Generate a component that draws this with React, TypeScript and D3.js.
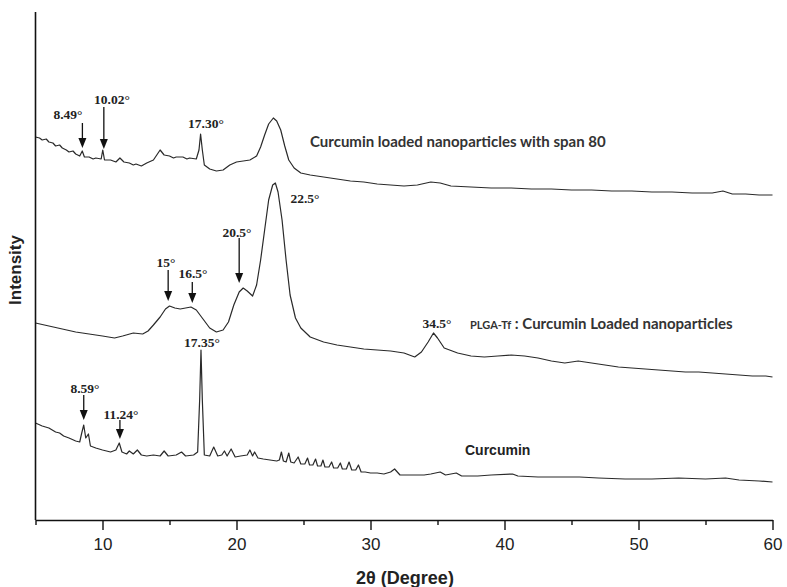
import React from "react";
import * as d3 from "d3";

// 2θ (degree) and intensity (a.u.) for each pattern
const span80Theta = [5.0,5.3,5.5,5.8,6.0,6.3,6.5,6.8,7.0,7.3,7.5,7.8,8.0,8.3,8.49,8.65,9.0,9.3,9.5,9.9,10.02,10.15,10.6,11.0,11.3,11.6,12.0,12.3,12.5,12.9,13.3,13.8,14.1,14.3,14.6,15.0,15.3,15.5,16.0,16.3,16.5,17.0,17.2,17.32,17.45,17.6,18.0,18.5,19.0,19.5,20.0,20.5,21.0,21.5,21.8,22.1,22.4,22.75,23.0,23.3,23.6,23.9,24.3,24.8,25.5,26.0,26.5,27.0,27.5,28.5,29.5,30.5,31.5,32.5,33.5,34.5,35.2,36.0,37.5,39.0,40.5,42.0,43.5,45.0,46.5,48.0,49.5,51.0,52.5,54.0,55.5,56.3,57.0,58.0,59.0,60.0];
const span80Int = [383,382,380,381,378,377,374,375,372,370,368,369,366,364,369,363,363,361,362,361,370,360,360,358,362,358,357,355,356,354,357,360,366,370,365,364,362,363,363,361,362,361,370,386,370,355,351,349,350,355,358,359,360,364,373,385,396,402,399,390,374,360,352,347,345,344,343,342,341,339,338,336,335,334,335,338,337,334,333,332,332,331,331,330,330,329,329,328,328,327,327,329,326,326,325,325];

const plgaTheta = [5.0,6.0,7.0,8.0,9.0,10.0,10.9,11.5,12.3,13.0,13.4,13.8,14.3,14.7,15.0,15.4,15.8,16.2,16.6,17.0,17.5,18.0,18.5,19.0,19.4,19.8,20.2,20.5,20.8,21.2,21.5,21.8,22.1,22.4,22.7,22.9,23.1,23.4,23.7,24.0,24.4,24.8,25.5,26.5,27.5,28.5,29.5,30.5,31.5,32.5,33.3,33.8,34.3,34.7,35.0,35.5,36.5,37.5,38.5,39.5,40.5,41.5,42.5,43.5,44.5,45.5,46.5,47.5,48.5,49.5,50.5,51.5,52.5,53.5,54.5,55.5,56.5,57.5,58.5,59.5,60.0];
const plgaInt = [197,194,191,188,186,184,182,184,187,186,189,195,203,211,214,212,211,212,213,210,201,192,188,190,198,215,228,232,229,224,235,260,290,320,335,337,328,300,260,225,202,192,183,178,175,173,171,170,169,167,163,168,178,187,182,172,167,164,163,164,165,164,162,159,157,159,157,155,153,152,151,150,149,148,148,147,146,145,144,144,143];

const curcuminTheta = [5.0,5.5,6.0,6.5,6.8,7.1,7.5,8.0,8.3,8.45,8.6,8.75,8.85,8.95,9.1,9.5,10.0,10.6,11.0,11.25,11.45,11.8,12.0,12.3,12.6,12.9,13.3,13.8,14.3,14.6,14.9,15.5,15.9,16.2,16.8,17.1,17.25,17.35,17.45,17.6,18.0,18.3,18.6,18.9,19.1,19.3,19.6,19.9,20.3,20.8,21.0,21.2,21.35,21.6,22.0,22.5,23.0,23.2,23.35,23.5,23.7,23.9,24.05,24.3,24.6,24.8,25.1,25.3,25.45,25.7,25.9,26.05,26.3,26.45,26.6,26.9,27.1,27.25,27.55,27.75,27.9,28.2,28.4,28.6,28.9,29.1,29.3,29.6,30.0,30.5,31.0,31.5,31.8,32.2,33.0,34.0,34.5,35.2,35.6,36.4,36.8,38.0,39.0,40.6,41.0,42.5,44.0,45.6,47.0,49.0,51.0,53.0,55.0,56.5,57.5,59.0,60.0];
const curcuminInt = [97,94,92,88,87,84,82,79,78,87,95,82,84,86,74,72,70,68,70,77,68,66,69,66,70,65,64,65,64,69,64,65,68,64,65,68,120,170,120,65,64,73,64,65,69,64,71,63,64,65,70,64,68,62,61,60,59,60,68,59,58,67,58,57,63,56,56,62,55,55,61,54,54,60,53,53,58,52,52,57,51,51,58,50,50,55,48,48,47,47,46,48,51,45,45,45,46,48,45,47,44,44,45,46,44,43,43,43,42,41,41,42,41,42,40,39,38];

const majorTicks = [10, 20, 30, 40, 50, 60];
const minorTicks = [5, 15, 25, 35, 45, 55];

const peakLabels = [
  { text: "8.49°", x: 68, y: 119 },
  { text: "10.02°", x: 112, y: 104 },
  { text: "17.30°", x: 206, y: 128 },
  { text: "22.5°", x: 305, y: 203 },
  { text: "20.5°", x: 237, y: 237 },
  { text: "15°", x: 166, y: 267 },
  { text: "16.5°", x: 193, y: 278 },
  { text: "17.35°", x: 202, y: 347 },
  { text: "34.5°", x: 437, y: 328 },
  { text: "8.59°", x: 85, y: 393 },
  { text: "11.24°", x: 121, y: 419 },
];

const arrows = [
  { deg: 8.5, y1: 123, y2: 148 },
  { deg: 10.1, y1: 107, y2: 149 },
  { deg: 20.2, y1: 238, y2: 283 },
  { deg: 14.9, y1: 270, y2: 301 },
  { deg: 16.7, y1: 282, y2: 303 },
  { deg: 8.6, y1: 395, y2: 420 },
  { deg: 11.3, y1: 420, y2: 439 },
];

const W = 787, H = 587;
const left = 35.5, right = 772.5, top = 12, bottom = 520;

function Axis({ scale, values, size, labels }: any) {
  const ref = React.useRef<SVGGElement>(null);
  React.useEffect(() => {
    const ax = d3.axisBottom(scale).tickValues(values).tickSize(size).tickSizeOuter(0);
    if (!labels) ax.tickFormat(() => "");
    const g = d3.select(ref.current!);
    g.call(ax as any);
    g.selectAll("path.domain").attr("stroke", "#111").attr("stroke-width", 1.6);
    g.selectAll(".tick line").attr("stroke", "#111").attr("stroke-width", 1.4);
    g.selectAll(".tick text")
      .attr("font-family", "'Liberation Sans', Arial, sans-serif")
      .attr("font-size", 17)
      .attr("fill", "#222")
      .attr("dy", "0")
      .attr("y", 30);
    if (!labels) g.selectAll("path.domain").remove();
  }, []);
  return <g ref={ref} transform={`translate(0,${bottom})`} />;
}

export default function App() {
  const x = d3.scaleLinear().domain([5, 60]).range([left, right]);
  const y = d3.scaleLinear().domain([0, 508]).range([bottom, top]);
  const line = d3.line<[number, number]>().x(d => x(d[0])).y(d => y(d[1]));
  const series = [
    d3.zip(span80Theta, span80Int),
    d3.zip(plgaTheta, plgaInt),
    d3.zip(curcuminTheta, curcuminInt),
  ] as [number, number][][];

  return (
    <svg width={W} height={H} style={{ position: "absolute", left: 0, top: 0, background: "#fff" }}>
      <rect width={W} height={H} fill="#fff" />
      {series.map((s, i) => (
        <path key={i} d={line(s) || ""} fill="none" stroke="#2a2a2a" strokeWidth={1.2} strokeLinejoin="round" />
      ))}
      <line x1={35.5} x2={35.5} y1={top} y2={bottom} stroke="#111" strokeWidth={1.6} />
      <Axis scale={x} values={minorTicks} size={5} labels={false} />
      <Axis scale={x} values={majorTicks} size={10} labels={true} />

      {arrows.map((a, i) => {
        const ax = x(a.deg);
        return (
          <g key={i}>
            <line x1={ax} x2={ax} y1={a.y1} y2={a.y2 - 8} stroke="#111" strokeWidth={1.3} />
            <path d={`M${ax - 4},${a.y2 - 10} L${ax + 4},${a.y2 - 10} L${ax},${a.y2} Z`} fill="#111" />
          </g>
        );
      })}
      {peakLabels.map((p, i) => (
        <text key={i} x={p.x} y={p.y} textAnchor="middle" fontFamily="'Liberation Serif', 'Times New Roman', serif" fontWeight="bold" fontSize={13.5} fill="#222">
          {p.text}
        </text>
      ))}

      <text x={310} y={147} fontFamily="Lato, 'Open Sans', sans-serif" fontWeight="bold" fontSize={15} fill="#333">
        Curcumin loaded nanoparticles with span 80
      </text>
      <text x={470} y={329} fontFamily="Lato, 'Open Sans', sans-serif" fontWeight="bold" fontSize={15} fill="#333">
        <tspan fontSize={11}>PLGA-Tf</tspan> : Curcumin Loaded nanoparticles
      </text>
      <text x={465} y={455} fontFamily="'Liberation Sans', Arial, sans-serif" fontWeight="bold" fontSize={14} fill="#222">
        Curcumin
      </text>

      <text transform="translate(21,270) rotate(-90)" textAnchor="middle" fontFamily="'Liberation Sans', Arial, sans-serif" fontWeight="bold" fontSize={17} fill="#222">
        Intensity
      </text>
      <text x={405} y={584} textAnchor="middle" fontFamily="'Liberation Sans', Arial, sans-serif" fontWeight="bold" fontSize={18} fill="#222">
        2θ (Degree)
      </text>
    </svg>
  );
}
